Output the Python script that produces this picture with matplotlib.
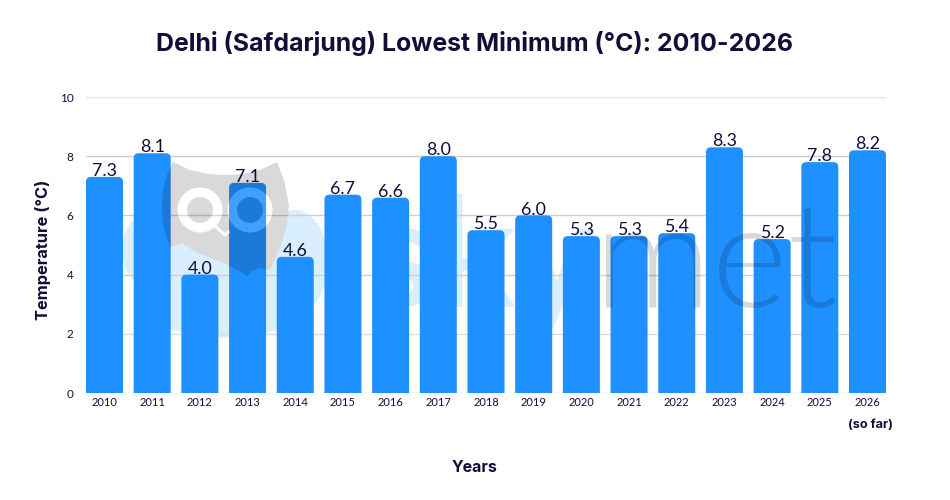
import numpy as np
import matplotlib
matplotlib.use("Agg")
import matplotlib.pyplot as plt
from matplotlib.path import Path
from matplotlib.patches import PathPatch, Ellipse, Polygon

years = ["2010","2011","2012","2013","2014","2015","2016","2017","2018","2019",
         "2020","2021","2022","2023","2024","2025","2026"]
lowest_min = [7.3,8.1,4.0,7.1,4.6,6.7,6.6,8.0,5.5,6.0,5.3,5.3,5.4,8.3,5.2,7.8,8.2]
y_ticks = [0,2,4,6,8,10]
grid_colors = ["#d8d8d8","#dcdcdc","#cfcfcf","#cfcfcf","#cccccc","#e4e4e4"]
title = "Delhi (Safdarjung) Lowest Minimum (°C): 2010-2026"
x_label = "Years"
y_label = "Temperature (°C)"
note = "(so far)"

INK = "#120e3a"
BAR = "#1e90ff"
W, H = 950, 500
fig = plt.figure(figsize=(W/100, H/100), dpi=100, facecolor="white")

def px_axes(z):
    a = fig.add_axes([0,0,1,1], zorder=z)
    a.set_xlim(0,W); a.set_ylim(H,0); a.axis("off")
    a.patch.set_alpha(0)
    return a

owl = [(173,162),(190,170),(208,174),(225,175),(243,174),(260,170),(277,162),(284,180),(289,205),(287,225),(280,248),
       (270,270),(260,268),(252,271),(247,277),(243,273),(223,263),(197,253),(182,243),(170,247),(163,225),(162,207),(163,190),(167,175)]

# watermark layer behind the bars
bg = px_axes(0)
CLOUD = "#d9eeff"
for cx,cy,rx,ry in [(160,250,38,43),(182,287,45,44),(225,300,50,38),(262,300,45,32),(295,262,33,52)]:
    bg.add_patch(Ellipse((cx,cy),2*rx,2*ry,fc=CLOUD,ec="none",zorder=1))
bg.add_patch(Polygon(owl,closed=True,fc="white",ec="none",zorder=2))
bg.text(368,307,"sky",fontsize=109,family="Lato",weight="bold",color=CLOUD,va="baseline",ha="left")

# chart
ax = fig.add_axes([86/W, 1-393/H, 800/W, 296/H], zorder=1)
ax.patch.set_alpha(0)
x = np.arange(len(years))
ax.set_xlim(-0.388, len(years)-1+0.388)
ax.set_ylim(0,10)
bw = 0.776
rx = 5/47.7; ry = 5/29.6
for xi,v in zip(x,lowest_min):
    l,r = xi-bw/2, xi+bw/2
    verts = [(l,0),(l,v-ry),(l,v),(l+rx,v),(r-rx,v),(r,v),(r,v-ry),(r,0),(l,0)]
    codes = [Path.MOVETO,Path.LINETO,Path.CURVE3,Path.CURVE3,Path.LINETO,Path.CURVE3,Path.CURVE3,Path.LINETO,Path.CLOSEPOLY]
    ax.add_patch(PathPatch(Path(verts,codes),fc=BAR,ec="none",zorder=3))
    ax.annotate(f"{v:.1f}",(xi,v),xytext=(0,0.6),textcoords="offset points",ha="center",va="baseline",
                fontsize=12.8,family="Lato",color=INK,zorder=6)
for t,c in zip(y_ticks,grid_colors):
    ax.axhline(t,color=c,lw=1,zorder=1)
for s in ax.spines.values():
    s.set_visible(False)
ax.set_xticks(x,years,fontsize=8,family="Lato",color=INK)
ax.set_yticks(y_ticks,[str(t) for t in y_ticks],fontsize=8.5,family="Lato",color=INK)
ax.tick_params(length=0)
ax.tick_params(axis="x",pad=3)
ax.tick_params(axis="y",pad=9)

# watermark layer over the bars
fg = px_axes(2)
theta = np.linspace(0,2*np.pi,73)
def circ(cx,cy,r,rev=False):
    t = theta[::-1] if rev else theta
    return np.c_[cx+r*np.cos(t),cy+r*np.sin(t)]
paths = [Path(owl+[owl[0]],closed=True)]
for cx in (200,250):
    paths += [Path(circ(cx,210,22.5,rev=True),closed=True), Path(circ(cx,210,13),closed=True)]
comp = Path.make_compound_path(*paths)
fg.add_patch(PathPatch(comp,fc=(0,0,0,0.15),ec="none"))
for cx in (200,250):
    ring = Path.make_compound_path(Path(circ(cx,210,22.5),closed=True),Path(circ(cx,210,13,rev=True),closed=True))
    fg.add_patch(PathPatch(ring,fc=(1,1,1,0.15),ec="none"))
fg.plot([215,225,229],[226,235,231],color="white",lw=2.2,solid_capstyle="butt")
fg.text(594,307,"met",fontsize=105,family="Lato",weight=300,color=(0,0,0,0.15),va="baseline",ha="left")

# texts
ov = px_axes(3)
ov.text(475,43,title,fontsize=17.9,family="Inter",weight="bold",color=INK,ha="center",va="center")
ov.text(475,468,x_label,fontsize=11.5,family="Inter",weight="bold",color=INK,ha="center",va="center")
ov.text(43,250,y_label,fontsize=11.8,family="Inter",weight="bold",color=INK,ha="center",va="center",rotation=90)
ov.text(870.5,425,note,fontsize=9.2,family="Inter",weight="bold",color=INK,ha="center",va="center")

fig.savefig("out.png",dpi=100)
